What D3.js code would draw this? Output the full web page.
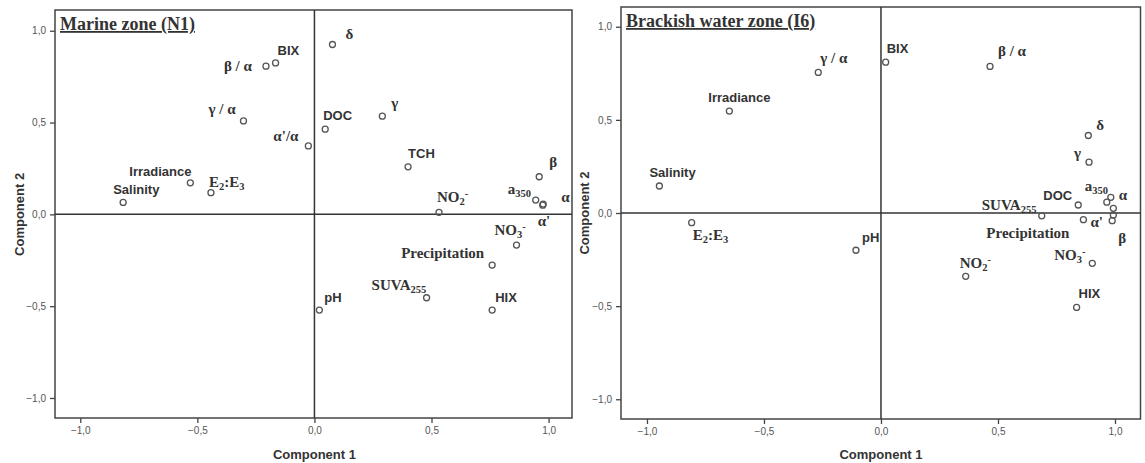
<!DOCTYPE html>
<html>
<head>
<meta charset="utf-8">
<script src="https://cdn.jsdelivr.net/npm/d3@7"></script>
<style>
  body { margin: 0; background: #fff; }
  svg { display: block; }
</style>
</head>
<body>
<div id="chart"></div>
<script>
/* * * * * * * * * * * * * * * * * * *
*   PCA LOADING PLOTS (N1 and I6)     *
* * * * * * * * * * * * * * * * * * */

// variables, in the same order for every array below
const variables = ["Salinity", "Irradiance", "E2:E3", "γ / α", "β / α", "BIX", "α'/α", "δ", "DOC", "γ",
    "TCH", "β", "a350", "α", "NO2-", "α'", "NO3-", "Precipitation", "SUVA255", "HIX", "pH"];

// Marine zone (N1) loadings
const marineComp1 = [-0.817, -0.53, -0.442, -0.303, -0.207, -0.166, -0.026, 0.077, 0.046, 0.29,
    0.40, 0.96, 0.945, 0.977, 0.532, 0.975, 0.863, 0.759, 0.479, 0.759, 0.021];
const marineComp2 = [0.065, 0.172, 0.118, 0.509, 0.807, 0.825, 0.373, 0.925, 0.464, 0.535,
    0.259, 0.205, 0.078, 0.056, 0.011, 0.05, -0.167, -0.276, -0.454, -0.521, -0.521];

// Brackish water zone (I6) loadings (α'/α not shown)
const brackishComp1 = [-0.947, -0.648, -0.809, -0.268, 0.466, 0.02, null, 0.886, 0.843, 0.889,
    0.993, 0.988, 0.982, 0.965, 0.362, 0.865, 0.903, 0.993, 0.687, 0.836, -0.107];
const brackishComp2 = [0.145, 0.547, -0.052, 0.755, 0.787, 0.81, null, 0.416, 0.043, 0.273,
    0.025, -0.041, 0.084, 0.058, -0.34, -0.036, -0.27, -0.011, -0.015, -0.507, -0.2];

const tickValues = [-1, -0.5, 0, 0.5, 1];

// label rendering
const sansLabels = ["Salinity", "Irradiance", "BIX", "DOC", "TCH", "HIX", "pH"];
const labelParts = {
    "E2:E3": [["E", ""], ["2", "sub"], [":E", ""], ["3", "sub"]],
    "NO2-": [["NO", ""], ["2", "sub"], ["-", "sup"]],
    "NO3-": [["NO", ""], ["3", "sub"], ["-", "sup"]],
    "SUVA255": [["SUVA", ""], ["255", "sub"]],
    "a350": [["a", ""], ["350", "sub"]]
};

// label offsets from the point (px), null = label hidden
const marineOffsets = {
    "Salinity": [-10, -8], "Irradiance": [-61, -7], "E2:E3": [-2, -6], "γ / α": [-35, -7],
    "β / α": [-42, 5], "BIX": [2, -8], "α'/α": [-35, -5], "δ": [13, -6], "DOC": [-2, -9],
    "γ": [9, -8], "TCH": [0, -9], "β": [10, -10], "a350": [-28, -6], "α": [18, -2],
    "NO2-": [-2, -10], "α'": [-5, 21], "NO3-": [-22, -10], "Precipitation": [-91, -7],
    "SUVA255": [-55, -8], "HIX": [3, -8], "pH": [5, -8]
};
const brackishOffsets = {
    "Salinity": [-10, -9], "Irradiance": [-21, -9], "E2:E3": [1, 17], "γ / α": [2, -9],
    "β / α": [8, -10], "BIX": [1, -9], "δ": [8, -6], "DOC": [-35, -5], "γ": [-15, -4],
    "TCH": null, "β": [6, 22], "a350": [-26, -6], "α": [12, -2], "NO2-": [-6, -8],
    "α'": [7, 7], "NO3-": [-38, -3], "Precipitation": [-127, 23], "SUVA255": [-60, -6],
    "HIX": [2, -9], "pH": [6, -8]
};

const svg = d3.select("#chart").append("svg")
    .attr("width", 1145)
    .attr("height", 463);

const fmt = v => d3.format(".1f")(v).replace(".", ",").replace("-", "-");

function addLabel(g, name, x, y) {
    const sans = sansLabels.includes(name);
    const parts = labelParts[name] || [[name, ""]];
    const t = g.append("text")
        .attr("x", x)
        .attr("y", y)
        .attr("font-family", sans ? "'Liberation Sans', Arial, sans-serif" : "'Liberation Serif', 'Times New Roman', serif")
        .attr("font-weight", "bold")
        .attr("font-size", sans ? 13 : 15)
        .attr("fill", "#333");
    let shift = 0;
    parts.forEach(([s, k]) => {
        const target = k === "sub" ? 3 : k === "sup" ? -5 : 0;
        t.append("tspan")
            .attr("dy", target - shift)
            .attr("font-size", k ? "0.7em" : null)
            .text(s);
        shift = target;
    });
}

function drawPanel(cfg) {
    const g = svg.append("g");

    const x = d3.scaleLinear().domain(cfg.xDomain).range(cfg.xRange);
    const y = d3.scaleLinear().domain(cfg.yDomain).range(cfg.yRange);

    // axes
    const xAxis = g.append("g")
        .attr("transform", `translate(0,${cfg.yRange[0]})`)
        .call(d3.axisBottom(x).tickValues(tickValues).tickFormat(fmt).tickSize(5).tickPadding(4));
    const yAxis = g.append("g")
        .attr("transform", `translate(${cfg.xRange[0]},0)`)
        .call(d3.axisLeft(y).tickValues(tickValues).tickFormat(fmt).tickSize(5).tickPadding(4));
    [xAxis, yAxis].forEach(a => {
        a.select(".domain").remove();
        a.selectAll("line").attr("stroke", "#444").attr("stroke-width", 1.3);
        a.selectAll("text")
            .attr("font-family", "'Liberation Sans', Arial, sans-serif")
            .attr("font-size", 10)
            .attr("fill", "#555");
    });

    // frame
    g.append("rect")
        .attr("x", cfg.xRange[0])
        .attr("y", cfg.yRange[1])
        .attr("width", cfg.xRange[1] - cfg.xRange[0])
        .attr("height", cfg.yRange[0] - cfg.yRange[1])
        .attr("fill", "none")
        .attr("stroke", "#444")
        .attr("stroke-width", 1.5);

    // zero lines
    g.append("line")
        .attr("x1", x(0)).attr("x2", x(0))
        .attr("y1", cfg.yRange[1]).attr("y2", cfg.yRange[0])
        .attr("stroke", "#333").attr("stroke-width", 1.5);
    g.append("line")
        .attr("x1", cfg.xRange[0]).attr("x2", cfg.xRange[1])
        .attr("y1", y(0)).attr("y2", y(0))
        .attr("stroke", "#333").attr("stroke-width", 1.5);

    // axis titles
    g.append("text")
        .attr("x", x(0))
        .attr("y", 459)
        .attr("text-anchor", "middle")
        .attr("font-family", "'Liberation Sans', Arial, sans-serif")
        .attr("font-weight", "bold")
        .attr("font-size", 13)
        .attr("fill", "#333")
        .text("Component 1");
    g.append("text")
        .attr("transform", `translate(${cfg.yTitleX},${y(0)}) rotate(-90)`)
        .attr("text-anchor", "middle")
        .attr("font-family", "'Liberation Sans', Arial, sans-serif")
        .attr("font-weight", "bold")
        .attr("font-size", 13)
        .attr("fill", "#333")
        .text("Component 2");

    // panel title
    g.append("text")
        .attr("x", cfg.xRange[0] + 5)
        .attr("y", cfg.titleY)
        .attr("font-family", "'Liberation Serif', 'Times New Roman', serif")
        .attr("font-weight", "bold")
        .attr("font-size", 18)
        .attr("fill", "#333")
        .attr("text-decoration", "underline")
        .text(cfg.title);

    // points
    const pts = variables.map((v, i) => ({ name: v, c1: cfg.c1[i], c2: cfg.c2[i] }))
        .filter(d => d.c1 !== null);

    g.selectAll("circle.pt")
        .data(pts)
        .join("circle")
        .attr("class", "pt")
        .attr("cx", d => x(d.c1))
        .attr("cy", d => y(d.c2))
        .attr("r", 3)
        .attr("fill", "none")
        .attr("stroke", "#555")
        .attr("stroke-width", 1.3);

    pts.forEach(d => {
        const off = cfg.offsets[d.name];
        if (!off) return;
        addLabel(g, d.name, x(d.c1) + off[0], y(d.c2) + off[1]);
    });
}

drawPanel({
    title: "Marine zone (N1)",
    c1: marineComp1, c2: marineComp2, offsets: marineOffsets,
    xDomain: [-1.108, 1.1], xRange: [55, 572],
    yDomain: [-1.109, 1.113], yRange: [418, 10],
    yTitleX: 24, titleY: 30
});

drawPanel({
    title: "Brackish water zone (I6)",
    c1: brackishComp1, c2: brackishComp2, offsets: brackishOffsets,
    xDomain: [-1.111, 1.109], xRange: [621, 1140.5],
    yDomain: [-1.106, 1.106], yRange: [419, 7],
    yTitleX: 589, titleY: 27
});
</script>
</body>
</html>
